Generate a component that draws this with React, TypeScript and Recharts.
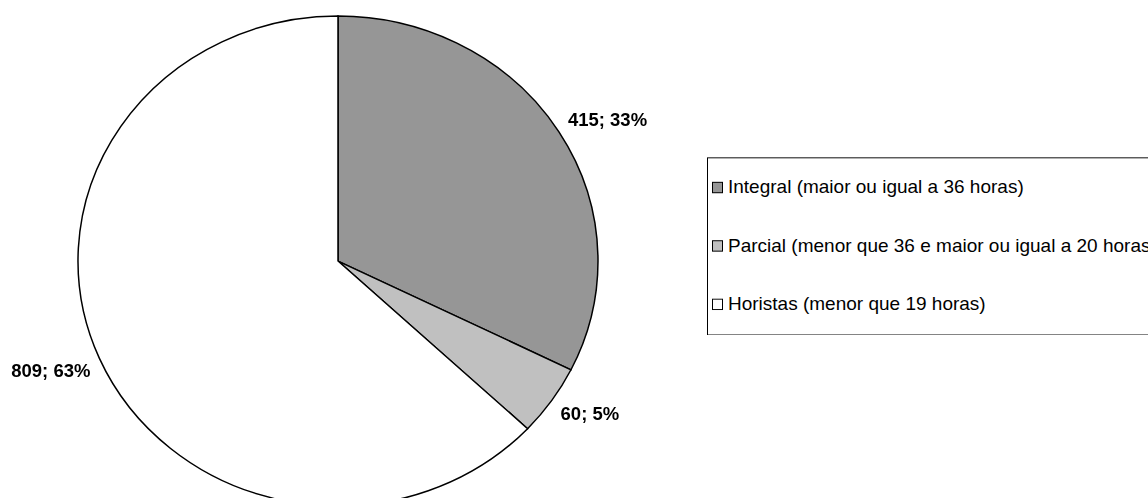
import React from 'react';
import { PieChart, Pie, Cell, Legend } from 'recharts';

const categories = [
  'Integral (maior ou igual a 36 horas)',
  'Parcial (menor que 36 e maior ou igual a 20 horas)',
  'Horistas (menor que 19 horas)',
];
const counts = [415, 60, 809];
const percentLabels = ['33%', '5%', '63%'];
const COLORS = ['#969696', '#C0C0C0', '#FFFFFF'];

const data = categories.map((name, i) => ({ name, value: counts[i], pct: percentLabels[i] }));

// the original picture is a bit squashed vertically, so the pie is an ellipse
const SCALE_Y = 245 / 260;
const FONT = 'Arial, "Liberation Sans", sans-serif';
const RADIAN = Math.PI / 180;

const renderLabel = (props: any) => {
  const { cx, cy, midAngle, outerRadius, index } = props;
  const cos = Math.cos(-midAngle * RADIAN);
  const sin = Math.sin(-midAngle * RADIAN);
  const ex = cx + outerRadius * cos;
  const ey = cy + outerRadius * sin;
  const x = ex + (cos >= 0 ? 9 : -9);
  const y = sin < 0 ? ey - 6 : ey + 20;
  return (
    <text
      x={x}
      y={y}
      textAnchor={cos >= 0 ? 'start' : 'end'}
      fontFamily={FONT}
      fontSize={18.5}
      fontWeight="bold"
      fill="#000"
    >
      {`${data[index].value}; ${data[index].pct}`}
    </text>
  );
};

const renderLegend = () => (
  <div
    style={{
      width: 460,
      height: 189,
      border: '1px solid #000',
      boxSizing: 'border-box',
      background: '#fff',
      display: 'flex',
      flexDirection: 'column',
      fontFamily: FONT,
      fontSize: 19,
      color: '#000',
    }}
  >
    {categories.map((name, i) => (
      <div key={name} style={{ height: 62.3, display: 'flex', alignItems: 'center', paddingLeft: 4, whiteSpace: 'nowrap' }}>
        <span
          style={{
            display: 'inline-block',
            width: 11,
            height: 11.7,
            boxSizing: 'border-box',
            border: '1px solid #000',
            background: COLORS[i],
            marginRight: 5,
          }}
        />
        <span>{name}</span>
      </div>
    ))}
  </div>
);

export default function App() {
  return (
    <div style={{ position: 'absolute', left: 0, top: 0, width: 1148, height: 498, overflow: 'hidden', background: '#fff' }}>
      <div style={{ width: 1148, height: 540, transform: `scaleY(${SCALE_Y})`, transformOrigin: '0 0' }}>
        <PieChart width={1148} height={540} margin={{ top: 0, right: 0, bottom: 0, left: 0 }}>
          <Pie
            data={data}
            dataKey="value"
            nameKey="name"
            cx={338}
            cy={277}
            outerRadius={260}
            startAngle={90}
            endAngle={-270}
            stroke="#000"
            strokeWidth={1.5}
            labelLine={false}
            label={renderLabel}
            isAnimationActive={false}
          >
            {data.map((entry, index) => (
              <Cell key={`cell-${index}`} fill={COLORS[index]} />
            ))}
          </Pie>
          <Legend
            content={renderLegend}
            wrapperStyle={{ position: 'absolute', left: 707, top: 166.6, width: 460, bottom: 'auto', right: 'auto' }}
          />
        </PieChart>
      </div>
    </div>
  );
}
